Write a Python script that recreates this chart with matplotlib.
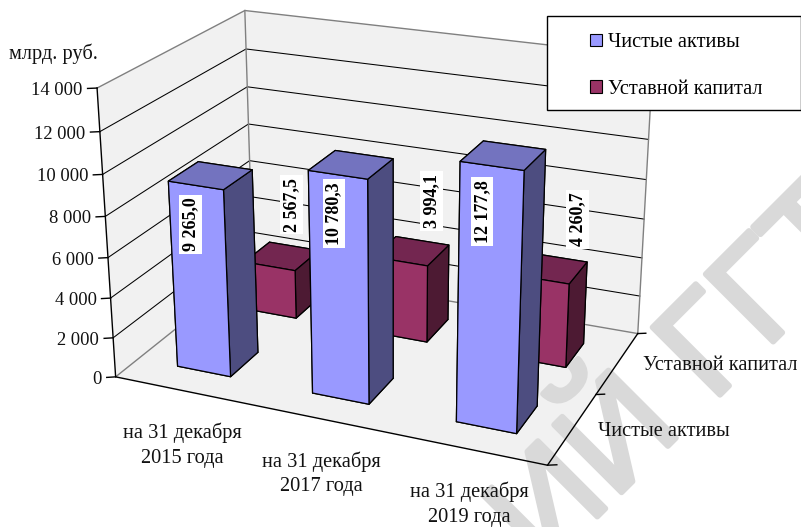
import numpy as np
import matplotlib
matplotlib.use("Agg")
import matplotlib.pyplot as plt
import matplotlib.patheffects as pe
from matplotlib.patches import Patch, Rectangle
from mpl_toolkits.mplot3d import proj3d
from mpl_toolkits.mplot3d.art3d import Poly3DCollection

plt.rcParams['font.family'] = ['Liberation Serif', 'DejaVu Serif']

# data
categories = ["на 31 декабря\n2015 года", "на 31 декабря\n2017 года", "на 31 декабря\n2019 года"]
series_names = ["Чистые активы", "Уставной капитал"]
net_assets = [9265.0, 10780.3, 12177.8]
charter_capital = [2567.5, 3994.1, 4260.7]
y_ticks = [0, 2000, 4000, 6000, 8000, 10000, 12000, 14000]

W, H = 801, 527
ZMAX = 14000
BAR = 0.4
FS = 14.7
FS_TICK = 13.3
FS_VALUE = 13

# box corners (x, depth, value) -> pixels of the reference, for fitting the camera
corners = [
    (0, 0, 14000, 97, 88.5), (0, 0, 0, 115.5, 376),
    (0, 2, 14000, 245, 10), (0, 2, 0, 253, 268),
    (3, 2, 14000, 653, 57), (3, 2, 0, 637.7, 333),
    (3, 0, 0, 547.7, 465.7),
]

def fit_camera(pts):
    rows = []
    for x, y, z, px, py in pts:
        X = [x, y, z / ZMAX, 1]
        u, v = px / 500, (H - py) / 500
        rows.append(X + [0, 0, 0, 0] + [-u * c for c in X])
        rows.append([0, 0, 0, 0] + X + [-v * c for c in X])
    P = np.linalg.svd(np.array(rows))[2][-1].reshape(3, 4)
    P[0:2] *= 500
    P[:, 2] /= ZMAX
    return P / (P[2] @ np.array([1.5, 1, ZMAX / 2, 1]))

fig = plt.figure(figsize=(W / 100, H / 100), dpi=100)
ax = fig.add_axes([0, 0, 1, 1], projection='3d', computed_zorder=False)
ax.set_axis_off()
ax.apply_aspect = lambda position=None: None

P = fit_camera(corners)
Q = ax.transData.inverted().get_matrix() @ P
M = np.vstack([Q[0], Q[1], [0, 0, 0, -1], Q[2]])
ax.get_proj = lambda: M
ax.M = M

def note(s, x, y, z, dx=0, dy=0, **kw):
    u, v, _ = proj3d.proj_transform(x, y, z, M)
    kw.setdefault('fontsize', FS)
    kw.setdefault('color', '#111111')
    return ax.annotate(s, (u, v), xytext=(dx, dy), textcoords='offset pixels',
                       annotation_clip=False, zorder=8, **kw)

# walls and floor
walls = [
    [(0, 2, 0), (3, 2, 0), (3, 2, ZMAX), (0, 2, ZMAX)],
    [(0, 0, 0), (0, 2, 0), (0, 2, ZMAX), (0, 0, ZMAX)],
    [(0, 0, 0), (3, 0, 0), (3, 2, 0), (0, 2, 0)],
]
for wall in walls:
    ax.add_collection3d(Poly3DCollection([wall], facecolors='#f1f1f1', edgecolors='none', zorder=1))

# watermark sits on the floor but under the bars
mark = dict(transform=fig.transFigure, fontsize=100, family='Liberation Sans',
            color='#d9d9d9', rotation=45, rotation_mode='anchor', va='baseline', zorder=2,
            path_effects=[pe.withStroke(linewidth=4, foreground='#d9d9d9')])
ax.text2D(684 / W, 1 - 430 / H, "ИЙ", ha='right', **mark)
ax.text2D(712 / W, 1 - 403 / H, "ГГТ", ha='left', **mark)

def line3(xs, ys, zs, color='black', lw=0.75, z=3):
    ax.plot(xs, ys, zs, color=color, lw=lw, zorder=z, solid_capstyle='projecting')

for t in y_ticks[1:-1]:
    line3([0, 0, 3], [0, 2, 2], [t, t, t])

gray = '#808080'
line3([0, 0, 3, 3], [0, 2, 2, 2], [ZMAX, ZMAX, ZMAX, 0], gray, 1.0)
line3([0, 0], [2, 2], [0, ZMAX], gray, 1.0)
line3([0, 0, 3], [0, 2, 2], [0, 0, 0], gray, 1.0)
line3([0, 0, 3, 3], [0, 0, 0, 2], [ZMAX, 0, 0, 0], 'black', 1.0)

for t in y_ticks:
    line3([0, -0.05], [0, -0.03], [t, t], 'black', 1.0)
    note(f"{t:,}".replace(",", " "), -0.05, -0.03, t, -5, -2, ha='right', va='center', fontsize=FS_TICK)
for d in [0, 1, 2]:
    line3([3, 3.05], [d, d + 0.027], [0, 0], 'black', 1.0)

# bars: faces are -z, +z, -y, +y, -x, +x
blue = ['#9999ff', '#7373bf', '#9999ff', '#9999ff', '#4d4d80', '#4d4d80']
maroon = ['#993366', '#732650', '#993366', '#993366', '#4d1a33', '#4d1a33']
label_shift = [
    [(-20, -49), (-17, -49), (-21, -56)],
    [(9.5, 51.5), (20, 50), (28, 49)],
]
rows = [(1, charter_capital, maroon, 4), (0, net_assets, blue, 5)]
for row, values, faces, zo in rows:
    for i, v in enumerate(values):
        x0 = i + 0.5 - BAR / 2
        y0 = row + 0.5 - BAR / 2
        ax.bar3d(x0, y0, 0, BAR, BAR, v, color=faces, shade=False,
                 edgecolor='black', linewidth=0.9, zorder=zo)
        txt = f"{v:,.1f}".replace(",", " ").replace(".", ",")
        dx, dy = label_shift[row][i]
        note(txt, i + 0.5, row + 0.5, v, dx, dy, rotation=90, ha='center', va='center',
             fontweight='bold', color='black', fontsize=FS_VALUE,
             bbox=dict(fc='white', ec='none', pad=2.0))

for i, c in enumerate(categories):
    note(c, i + 0.5, 0, 0, 0, -55, ha='center', va='center', linespacing=1.4)
for d, s in enumerate(series_names):
    note(s, 3, d + 0.5, 0, 25, -3, ha='left', va='center')

ax.text2D(53.5 / W, 1 - 53.5 / H, "млрд. руб.", transform=fig.transFigure, fontsize=FS,
          color='#111111', ha='center', va='center', zorder=8)

# legend frame runs off the right edge of the picture
fig.add_artist(Rectangle((547 / W, 1 - 110 / H), 254 / W, 94 / H, transform=fig.transFigure,
                         fc='white', ec='black', lw=1.0, zorder=4))
handles = [Patch(fc=blue[0], ec='black', lw=0.8), Patch(fc=maroon[0], ec='black', lw=0.8)]
fig.legend(handles, series_names, loc='upper left', frameon=False, fontsize=FS,
           bbox_to_anchor=(584 / W, 1 - 27 / H), handlelength=0.58, handleheight=0.58,
           handletextpad=0.3, labelspacing=1.35, borderpad=0.3, borderaxespad=0)

fig.savefig("out.png", dpi=100)
